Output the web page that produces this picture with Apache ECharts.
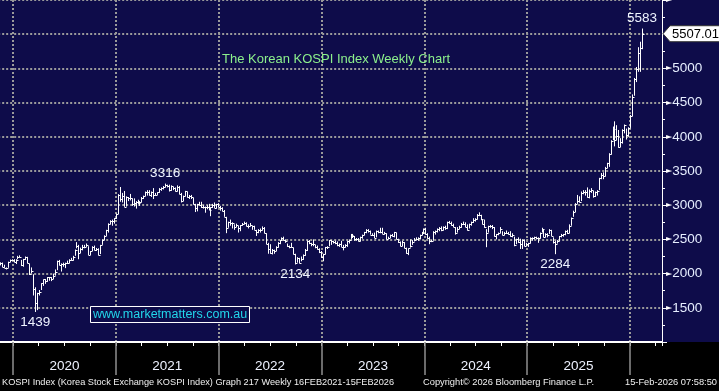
<!DOCTYPE html>
<html>
<head>
<meta charset="utf-8">
<script src="https://cdn.jsdelivr.net/npm/echarts@6/dist/echarts.min.js"></script>
<style>
html,body{margin:0;padding:0;background:#000;}
#chart{width:719px;height:391px;background:linear-gradient(to bottom,#0e0c4a 0px,#0e0c4a 342px,#000 342px,#000 391px);}
</style>
</head>
<body>
<div id="chart"></div>
<script>
// ---- DATA ----
// Weekly bars, one per Friday starting at firstWeek (2019-11-15 ... 2026-02-13)
const firstWeek = '2019-11-15';

const weekHigh = [
  2165,2162,2130,2090,2175,2205,2210,
  2211,2210,2260,2267,2200,2215,2250,2245,2145,2090,1990,1800,1720,1760,1860,1914,1920,1950,1950,1950,2000,2060,2190,2200,2150,2160,2160,2190,2210,2230,2260,2352,2460,2420,2380,2420,2420,2440,2400,2330,2400,2410,2375,2370,2420,2500,2560,2640,2735,2780,2790,2810,
  2878,3162,3266,3180,3208,3130,3120,3165,3100,3100,3060,3080,3060,3120,3140,3200,3220,3220,3200,3250,3180,3190,3250,3260,3280,3316,3300,3300,3290,3270,3260,3290,3280,3180,3140,3210,3200,3150,3150,3110,3020,3020,3050,3050,3000,2980,3000,3020,2970,3020,3040,3020,3030,
  2990,2970,2930,2830,2760,2790,2750,2720,2730,2700,2710,2740,2760,2750,2720,2740,2700,2700,2640,2650,2660,2690,2680,2590,2450,2430,2360,2350,2400,2460,2490,2530,2540,2500,2440,2410,2450,2380,2290,2240,2230,2250,2280,2360,2485,2490,2450,2500,2420,2410,2370,2330,
  2290,2390,2400,2490,2490,2480,2480,2470,2440,2480,2420,2430,2480,2500,2580,2580,2550,2520,2520,2540,2570,2610,2650,2650,2630,2590,2600,2630,2630,2670,2670,2610,2590,2540,2570,2580,2610,2600,2510,2470,2480,2460,2380,2370,2500,2490,2520,2530,2530,2570,2610,2660,
  2670,2590,2540,2490,2620,2630,2660,2680,2690,2690,2700,2760,2770,2760,2730,2680,2680,2700,2740,2760,2750,2720,2730,2760,2810,2810,2870,2896,2860,2790,2790,2650,2700,2710,2710,2680,2580,2600,2680,2620,2610,2630,2610,2620,2590,2540,2510,2530,2510,2500,2500,2450,
  2450,2530,2530,2540,2540,2530,2600,2670,2650,2590,2590,2650,2640,2530,2480,2490,2550,2580,2580,2630,2640,2720,2820,2920,3030,3150,3130,3200,3220,3220,3260,3230,3250,3210,3200,3220,3400,3470,3480,3560,3620,3760,3950,4150,4226,4170,4100,3980,4110,4180,4120,4140,
  4320,4620,4860,5020,5310,5390,5583
];

const weekLow = [
  2120,2095,2085,2060,2085,2170,2185,
  2166,2140,2210,2235,2110,2100,2200,2150,1980,2005,1680,1439,1466,1680,1760,1820,1850,1880,1895,1890,1920,1970,2050,2120,2030,2100,2080,2140,2150,2190,2190,2260,2370,2210,2300,2340,2370,2390,2270,2270,2330,2340,2330,2267,2285,2420,2490,2550,2600,2720,2700,2730,
  2800,2870,3050,3040,2976,2980,3060,3070,2990,2980,2950,3020,2990,3040,3090,3130,3140,3140,3120,3090,3140,3150,3180,3210,3230,3260,3260,3200,3210,3220,3200,3200,3160,3040,3060,3130,3110,3090,3090,3010,2900,2910,3000,2960,2950,2890,2940,2930,2839,2960,2960,2950,2970,
  2920,2910,2830,2591,2670,2700,2660,2640,2680,2600,2620,2700,2720,2690,2660,2690,2640,2640,2550,2590,2600,2630,2590,2430,2290,2290,2280,2290,2330,2380,2430,2480,2490,2450,2390,2370,2380,2280,2134,2160,2150,2180,2200,2260,2330,2430,2400,2400,2370,2350,2300,2230,
  2180,2280,2360,2400,2420,2440,2430,2400,2390,2390,2340,2380,2390,2440,2500,2520,2480,2480,2470,2470,2510,2560,2590,2600,2570,2550,2520,2530,2590,2590,2580,2570,2500,2500,2520,2540,2530,2500,2450,2400,2400,2370,2290,2270,2380,2420,2470,2490,2480,2500,2560,2590,
  2570,2510,2430,2460,2480,2570,2600,2620,2620,2630,2640,2650,2730,2700,2680,2570,2600,2650,2670,2710,2680,2630,2660,2700,2740,2760,2790,2840,2780,2720,2670,2386,2600,2670,2650,2540,2500,2560,2590,2560,2560,2580,2570,2540,2530,2400,2430,2450,2360,2360,2400,2400,
  2390,2440,2480,2500,2500,2450,2510,2600,2530,2530,2530,2580,2550,2440,2284,2440,2470,2530,2540,2560,2580,2590,2700,2830,2900,3020,3040,3060,3160,3140,3110,3100,3180,3110,3120,3140,3220,3380,3380,3420,3540,3560,3740,3950,3860,3950,3840,3850,3900,4050,3960,4000,
  4130,4300,4600,4800,4950,4950,5280
];

const weekClose = [
  2162,2101,2088,2081,2170,2204,2204,
  2176,2206,2250,2246,2119,2212,2243,2162,1987,2040,1771,1566,1717,1725,1860,1914,1889,1947,1945,1927,1970,2029,2181,2132,2141,2134,2152,2150,2201,2200,2249,2351,2407,2304,2353,2384,2396,2412,2278,2327,2391,2341,2360,2267,2416,2493,2553,2633,2731,2770,2772,2806,
  2873,3152,3085,3140,2976,3120,3100,3107,3013,3026,3054,3039,3041,3112,3135,3199,3186,3147,3198,3153,3156,3188,3240,3249,3268,3302,3281,3217,3276,3254,3202,3270,3171,3060,3133,3201,3125,3140,3125,3019,2956,3015,3006,2970,2969,2968,2971,2936,2968,3010,2963,3012,2977,
  2954,2921,2834,2663,2750,2747,2745,2676,2713,2661,2707,2729,2739,2700,2696,2704,2695,2644,2604,2639,2638,2670,2595,2440,2366,2305,2350,2330,2393,2451,2490,2527,2492,2481,2409,2384,2382,2290,2155,2232,2162,2213,2268,2348,2483,2444,2437,2434,2389,2360,2313,2236,
  2289,2386,2395,2484,2480,2469,2451,2424,2432,2394,2395,2414,2477,2490,2571,2544,2501,2500,2475,2537,2559,2601,2641,2625,2570,2564,2526,2628,2609,2608,2580,2591,2505,2519,2563,2548,2601,2508,2465,2408,2456,2375,2302,2368,2409,2469,2496,2505,2517,2563,2599,2655,
  2578,2525,2472,2478,2615,2620,2648,2667,2642,2681,2666,2748,2746,2714,2681,2591,2656,2676,2727,2725,2687,2636,2722,2758,2784,2798,2862,2857,2795,2731,2676,2588,2697,2701,2674,2544,2575,2593,2649,2569,2596,2593,2583,2543,2561,2416,2501,2455,2428,2494,2404,2429,
  2441,2515,2523,2536,2517,2521,2591,2654,2532,2573,2566,2643,2557,2465,2432,2483,2546,2559,2577,2626,2592,2697,2812,2894,3021,3055,3054,3175,3188,3196,3119,3210,3225,3130,3186,3205,3395,3445,3424,3549,3610,3748,3941,4107,3953,4011,3853,3926,4100,4167,4020,4129,
  4309,4586,4840,4990,5220,5300,5507
];

// Annotated extremes
const noteDates  = ['2020-03-20','2021-06-25','2022-09-30','2025-04-11','2026-02-13'];
const noteValues = [1439, 3316, 2134, 2284, 5583];
const notePlace  = ['below','above','below','below','above'];

// Last price tag
const lastPrice = 5507.01;

// Axis ticks / labels
const yearTicks = [2020, 2021, 2022, 2023, 2024, 2025, 2026];
const yTickValues = [1500, 2000, 2500, 3000, 3500, 4000, 4500, 5000, 5500];

const titleText = 'The Korean KOSPI Index Weekly Chart';
const watermarkText = 'www.marketmatters.com.au';
const footerLeft = 'KOSPI Index (Korea Stock Exchange KOSPI Index) Graph 217 Weekly 16FEB2021-15FEB2026';
const footerMid = 'Copyright\u00A9 2026 Bloomberg Finance L.P.';
const footerRight = '15-Feb-2026 07:58:50';

// ---- BUILD ----
const X_MIN = 2019, X_MAX = 2026.3113;
const FONT = '"Liberation Sans", Arial, sans-serif';
const NAVY = '#0e0c4a';

function yearFrac(ms) {
  const d = new Date(ms);
  const y = d.getUTCFullYear();
  const s = Date.UTC(y, 0, 1), e = Date.UTC(y + 1, 0, 1);
  return y + (ms - s) / (e - s);
}
const t0 = Date.parse(firstWeek + 'T00:00:00Z');
const barData = weekClose.map((c, i) => [yearFrac(t0 + i * 7 * 864e5), weekHigh[i], weekLow[i], c]);
const noteData = noteDates.map((d, i) => [yearFrac(Date.parse(d + 'T00:00:00Z')), noteValues[i], notePlace[i] === 'above' ? 1 : 0]);

function renderBar(params, api) {
  const x = api.value(0);
  const top = api.coord([x, api.value(1)]);
  const bot = api.coord([x, api.value(2)]);
  const cls = api.coord([x, api.value(3)]);
  const px = Math.round(top[0]) + 0.5;
  const cy = Math.round(cls[1]) + 0.5;
  return {
    type: 'group',
    children: [
      { type: 'line', shape: { x1: px, y1: top[1], x2: px, y2: Math.max(bot[1], top[1] + 1) }, style: { stroke: '#ffffff', lineWidth: 1 } },
      { type: 'line', shape: { x1: px, y1: cy, x2: px + 2, y2: cy }, style: { stroke: '#ffffff', lineWidth: 1 } }
    ]
  };
}

function renderNote(params, api) {
  const p = api.coord([api.value(0), api.value(1)]);
  const above = api.value(2) === 1;
  return {
    type: 'text',
    style: {
      text: String(api.value(1)),
      x: p[0], y: above ? p[1] - 3 : p[1] + 3,
      align: 'center', verticalAlign: above ? 'bottom' : 'top',
      fill: '#eef3ff', font: '13.5px ' + FONT
    }
  };
}

function renderTag(params, api) {
  const p = api.coord([api.value(0), api.value(1)]);
  const x = p[0] + 1, y = p[1];
  return {
    type: 'group',
    children: [
      { type: 'polygon', shape: { points: [[x, y], [x + 7, y - 8], [x + 70, y - 8], [x + 70, y + 8], [x + 7, y + 8]] },
        style: { fill: '#ffffff', stroke: '#333333', lineWidth: 1 } },
      { type: 'text', style: { text: lastPrice.toFixed(2), x: x + 9, y: y + 0.5, align: 'left', verticalAlign: 'middle', fill: '#000000', font: '13px ' + FONT } }
    ]
  };
}

const common = { type: 'value', position: 'bottom', min: X_MIN, max: X_MAX, gridIndex: 0 };

const option = {
  backgroundColor: 'transparent',
  animation: false,
  title: [
    { text: titleText, left: 222, top: 53, padding: 0,
      textStyle: { color: '#8cf08c', fontSize: 13, fontWeight: 'normal', fontFamily: FONT } },
    { text: watermarkText, left: 90, top: 306, padding: [2, 3, 2, 3], borderColor: '#ffffff', borderWidth: 1, backgroundColor: NAVY,
      textStyle: { color: '#22d6ea', fontSize: 12.5, fontWeight: 'normal', fontFamily: FONT } }
  ],
  grid: { left: -89.83, right: 57, top: 0, bottom: 49, containLabel: false, outerBoundsMode: 'none' },
  xAxis: [
    Object.assign({}, common, {
      interval: 0.25,
      axisLine: { show: true, onZero: false, lineStyle: { color: '#ffffff', width: 2 } },
      axisTick: { show: true, length: 4, lineStyle: { color: '#ffffff', width: 1 } },
      splitLine: { show: false },
      axisLabel: {
        show: true, margin: 17, color: '#eef2ff', fontSize: 13.5, fontFamily: FONT,
        formatter: v => Math.abs(v - Math.floor(v) - 0.5) < 1e-6 ? String(Math.floor(v)) : ''
      }
    }),
    Object.assign({}, common, {
      interval: 1,
      axisLine: { show: false, onZero: false },
      axisTick: { show: true, length: 33, customValues: yearTicks, lineStyle: { color: '#8f8f8f', width: 1.5 } },
      splitLine: { show: true, lineStyle: { color: '#9a9a9a', width: 2, type: [2, 2] } },
      axisLabel: { show: false }
    })
  ],
  yAxis: {
    type: 'value', position: 'right', min: 1000, max: 6000, interval: 500,
    axisLine: { show: true, onZero: false, lineStyle: { color: '#ffffff', width: 1 } },
    axisTick: { show: true, length: 5, lineStyle: { color: '#ffffff', width: 1 } },
    minorTick: { show: true, splitNumber: 2, length: 3, lineStyle: { color: '#ffffff', width: 1 } },
    splitLine: { show: true, lineStyle: { color: '#9a9a9a', width: 2, type: [2, 2] } },
    axisLabel: {
      show: true, margin: 4,
      formatter: v => (yTickValues.indexOf(v) >= 0 ? '{t|\u25BA}{v|' + v + '}' : (v === 6000 ? '{t|\u25BA}' : '')),
      rich: {
        t: { fontSize: 8, color: '#ffffff', fontFamily: '"DejaVu Sans"' },
        v: { fontSize: 13.5, color: '#e6eeff', fontFamily: FONT }
      }
    }
  },
  series: [
    { type: 'custom', name: 'KOSPI', xAxisIndex: 0, yAxisIndex: 0, data: barData, renderItem: renderBar,
      encode: { x: 0, y: [1, 2, 3] }, clip: true, silent: true },
    { type: 'custom', name: 'notes', xAxisIndex: 0, yAxisIndex: 0, data: noteData, renderItem: renderNote,
      encode: { x: 0, y: 1 }, clip: false, silent: true, z: 5 },
    { type: 'custom', name: 'last', xAxisIndex: 0, yAxisIndex: 0, data: [[X_MAX, lastPrice]], renderItem: renderTag,
      encode: { x: 0, y: 1 }, clip: false, silent: true, z: 6 }
  ],
  graphic: [
    { type: 'text', left: 2, top: 378, style: { text: footerLeft, fill: '#f0f0f0', font: '9.2px ' + FONT } },
    { type: 'text', left: 423, top: 378, style: { text: footerMid, fill: '#f0f0f0', font: '9.3px ' + FONT } },
    { type: 'text', right: 2, top: 378, style: { text: footerRight, fill: '#f0f0f0', font: '9.3px ' + FONT } }
  ]
};

const chart = echarts.init(document.getElementById('chart'), null, { renderer: 'canvas' });
chart.setOption(option);
</script>
</body>
</html>
